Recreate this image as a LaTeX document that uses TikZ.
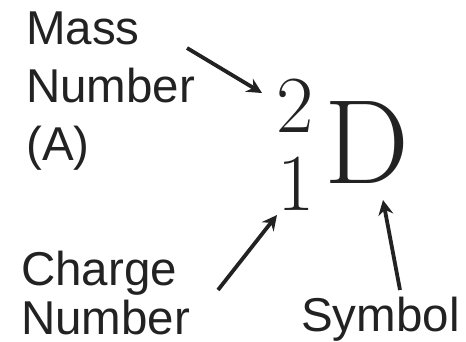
\documentclass[tikz,border=0pt]{standalone}
\usepackage{fontspec}
\setsansfont{Liberation Sans}
\usepackage{xcolor}
\usetikzlibrary{arrows.meta, positioning}

\definecolor{ink}{HTML}{222222}

\begin{document}
\begin{tikzpicture}[x=1pt, y=-1pt,
		labeltext/.style={inner sep=0pt, align=left, anchor=north west, text=ink},
		bignum/.style={inner sep=0pt, anchor=base, text=ink, font=\fontsize{81}{81}\selectfont},
		pointer/.style={-{Stealth[length=15pt, width=15pt, inset=5pt]}, line width=3.8pt, draw=ink}]
	
	\useasboundingbox (0,0) rectangle (466,342);
	
	% Labels
	\node[labeltext, font=\sffamily\fontsize{47.5}{58}\selectfont] (mass) at (26,12) {Mass\\Number\\(A)};
	\node[labeltext, text depth=0pt, font=\sffamily\fontsize{47.5}{49}\selectfont] (charge) at (21,251) {Charge\\Number};
	\node[labeltext, anchor=base west, font=\sffamily\fontsize{47.5}{50}\selectfont] (symbol) at (301,331) {Symbol};
	
	% Nuclide symbol
	\node[bignum] (massnum) at (295,133) {2};
	\node[bignum] (chargenum) at (296,210) {1};
	\node[inner sep=0pt, anchor=base west, text=ink, font=\fontsize{120}{120}\selectfont] (elem) at (324,183) {D};
	
	% Arrow ends
	\coordinate (massfrom) at (187,48);
	\coordinate (massto) at (262,93);
	\coordinate (chargefrom) at (218,290);
	\coordinate (chargeto) at (277,215);
	\coordinate (symbolfrom) at (400,290);
	\coordinate (symbolto) at (383,200);
	
	% Arrows
	\draw[pointer] (massfrom) -- (massto);
	\draw[pointer] (chargefrom) -- (chargeto);
	\draw[pointer] (symbolfrom) -- (symbolto);
	
\end{tikzpicture}
\end{document}
